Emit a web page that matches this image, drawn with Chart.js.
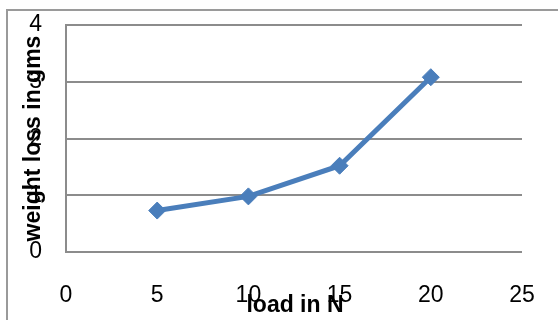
<!DOCTYPE html>
<html>
<head>
<meta charset="utf-8">
<script src="https://cdn.jsdelivr.net/npm/chart.js@4/dist/chart.umd.min.js"></script>
<style>
  html, body { margin: 0; padding: 0; background: #fff; }
  #wrap { position: relative; width: 558px; height: 320px; }
</style>
</head>
<body>
<div id="wrap"><canvas id="c" width="558" height="320"></canvas></div>
<script>
// Load applied (N) and the weight lost (gms) at each load
const loads = [5, 10, 15, 20];
const weightLoss = [0.73, 0.98, 1.52, 3.08];

const xTitle = 'load in N';
const yTitle = 'weight loss in gms';
const xRange = [0, 25];
const yRange = [0, 4];

const gridGray = '#8c8c8c';
const seriesBlue = '#4A7EBB';

// Frame around the chart and the two axis titles, drawn over the tick labels
const decorations = {
  id: 'decorations',
  beforeDraw(chart) {
    const ctx = chart.ctx;
    ctx.save();
    ctx.strokeStyle = '#9a9a9a';
    ctx.lineWidth = 2;
    ctx.beginPath();
    ctx.moveTo(7, 320);
    ctx.lineTo(7, 10);
    ctx.lineTo(558, 10);
    ctx.stroke();
    ctx.restore();
  },
  afterDraw(chart) {
    const ctx = chart.ctx;
    const area = chart.chartArea;
    ctx.save();
    ctx.fillStyle = '#000';
    ctx.font = 'bold 23px "Liberation Sans", Arial, sans-serif';
    ctx.textAlign = 'center';
    ctx.textBaseline = 'middle';
    ctx.fillText(xTitle, (area.left + area.right) / 2 + 1, 306);
    ctx.translate(34, (area.top + area.bottom) / 2);
    ctx.rotate(-Math.PI / 2);
    ctx.fillText(yTitle, 0, 0);
    ctx.restore();
  }
};

new Chart(document.getElementById('c'), {
  type: 'line',
  data: {
    datasets: [{
      data: loads.map((x, i) => ({ x, y: weightLoss[i] })),
      borderColor: seriesBlue,
      backgroundColor: seriesBlue,
      borderWidth: 5,
      pointStyle: 'rectRot',
      pointRadius: 8.5,
      pointBorderWidth: 1,
      pointBackgroundColor: seriesBlue,
      pointBorderColor: seriesBlue,
      tension: 0
    }]
  },
  options: {
    responsive: false,
    animation: false,
    events: [],
    layout: { autoPadding: false, padding: { left: 0, top: 25, right: 36, bottom: 0 } },
    plugins: {
      legend: { display: false },
      tooltip: { enabled: false },
      title: { display: false }
    },
    scales: {
      x: {
        type: 'linear',
        min: xRange[0],
        max: xRange[1],
        afterFit(scale) { scale.height = 68; },
        ticks: {
          stepSize: 5,
          color: '#000',
          padding: 0,
          font: { family: '"Liberation Sans", Arial, sans-serif', size: 23 }
        },
        grid: { display: false, drawTicks: true, tickLength: 30 },
        border: { display: false }
      },
      y: {
        type: 'linear',
        min: yRange[0],
        max: yRange[1],
        afterFit(scale) { scale.width = 66; },
        ticks: {
          stepSize: 1,
          color: '#000',
          padding: 0,
          font: { family: '"Liberation Sans", Arial, sans-serif', size: 23 }
        },
        grid: { color: gridGray, lineWidth: 2, drawTicks: true, tickLength: 24, tickColor: 'rgba(0,0,0,0)' },
        border: { display: true, color: gridGray, width: 2 }
      }
    }
  },
  plugins: [decorations]
});
</script>
</body>
</html>
